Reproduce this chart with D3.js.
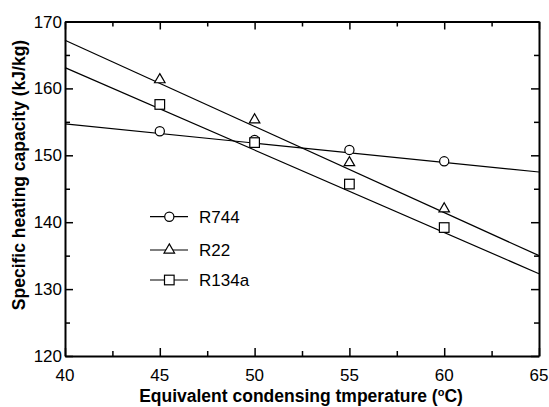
<!DOCTYPE html>
<html><head><meta charset="utf-8">
<script src="https://cdn.jsdelivr.net/npm/d3@7"></script>
<style>
body{margin:0;background:#fff;}
svg{display:block;}
text{font-family:"Liberation Sans",Arial,sans-serif;fill:#000;}
</style></head>
<body>
<svg id="c" width="549" height="407"></svg>
<script>
// Data
const temps = [45, 50, 55, 60];
const r744 = [153.6, 152.3, 150.8, 149.1];
const r22 = [161.3, 155.3, 148.9, 142.0];
const r134a = [157.6, 151.9, 145.7, 139.2];
// fitted straight lines drawn across the whole axis (read at 40 and 65)
const fitTemps = [40, 65];
const r744Fit = [154.7, 147.5];
const r22Fit = [167.2, 135.0];
const r134aFit = [163.1, 132.3];
const seriesNames = ["R744", "R22", "R134a"];
const xTicks = [40, 45, 50, 55, 60, 65];
const yTicks = [120, 130, 140, 150, 160, 170];

const svg = d3.select("#c");
const L = 65, R = 539, T = 21.5, B = 356;
const x = d3.scaleLinear().domain([40, 65]).range([L, R]);
const y = d3.scaleLinear().domain([120, 170]).range([B, T]);

// frame with inward ticks
const minorX = d3.range(40, 65.01, 2.5);
const minorY = d3.range(120, 170.01, 5);
function isMajorX(v){return Math.abs(v % 5) < 1e-6;}
function isMajorY(v){return Math.abs(v % 10) < 1e-6;}

const gB = svg.append("g").attr("transform", `translate(0,${B})`)
  .call(d3.axisBottom(x).tickValues(minorX).tickSizeOuter(0).tickFormat(""));
gB.selectAll(".tick line").attr("y2", d => isMajorX(d) ? -8 : -5);
const gT = svg.append("g").attr("transform", `translate(0,${T})`)
  .call(d3.axisTop(x).tickValues(minorX).tickSizeOuter(0).tickFormat(""));
gT.selectAll(".tick line").attr("y2", d => isMajorX(d) ? 8 : 5);
const gL = svg.append("g").attr("transform", `translate(${L},0)`)
  .call(d3.axisLeft(y).tickValues(minorY).tickSizeOuter(0).tickFormat(""));
gL.selectAll(".tick line").attr("x2", d => isMajorY(d) ? 8 : 5);
const gR = svg.append("g").attr("transform", `translate(${R},0)`)
  .call(d3.axisRight(y).tickValues(minorY).tickSizeOuter(0).tickFormat(""));
gR.selectAll(".tick line").attr("x2", d => isMajorY(d) ? -8 : -5);
svg.selectAll(".domain").attr("stroke", "#000").attr("stroke-width", 2);
svg.selectAll(".tick line").attr("stroke", "#000").attr("stroke-width", 1.5);

// tick labels
svg.append("g").selectAll("text").data(xTicks).join("text")
  .attr("x", d => x(d)).attr("y", 381).attr("text-anchor", "middle")
  .attr("font-size", 17).text(d => d);
svg.append("g").selectAll("text").data(yTicks).join("text")
  .attr("x", 62).attr("y", d => y(d) + 6).attr("text-anchor", "end")
  .attr("font-size", 17).text(d => d);

// axis titles
const xt = svg.append("text").attr("x", 301).attr("y", 402).attr("text-anchor", "middle")
  .attr("font-size", 17.5).attr("font-weight", "bold");
xt.append("tspan").text("Equivalent condensing tmperature  (");
xt.append("tspan").attr("font-size", 11).attr("dy", -6).text("o");
xt.append("tspan").attr("dy", 6).text("C)");
svg.append("text").attr("transform", "translate(25,175) rotate(-90)").attr("text-anchor", "middle")
  .attr("font-size", 17.5).attr("font-weight", "bold").text("Specific heating capacity  (kJ/kg)");

// lines
const data = [
  {name: seriesNames[0], vals: r744, fit: r744Fit, shape: "circle"},
  {name: seriesNames[1], vals: r22, fit: r22Fit, shape: "triangle"},
  {name: seriesNames[2], vals: r134a, fit: r134aFit, shape: "square"}
];
const line = d3.line().x(d => x(d[0])).y(d => y(d[1]));
const gLines = svg.append("g");
data.forEach(s => {
  gLines.append("path").datum(fitTemps.map((t, i) => [t, s.fit[i]]))
    .attr("d", line).attr("fill", "none").attr("stroke", "#000").attr("stroke-width", 1.2);
});

function marker(g, shape, cx, cy){
  if (shape === "circle") {
    g.append("circle").attr("cx", cx).attr("cy", cy).attr("r", 4.6)
      .attr("fill", "#fff").attr("stroke", "#000").attr("stroke-width", 1.2);
  } else if (shape === "square") {
    g.append("rect").attr("x", cx - 4.8).attr("y", cy - 4.8).attr("width", 9.6).attr("height", 9.6)
      .attr("fill", "#fff").attr("stroke", "#000").attr("stroke-width", 1.2);
  } else {
    const s = d3.symbol().type(d3.symbolTriangle).size(48);
    g.append("path").attr("d", s()).attr("transform", `translate(${cx},${cy})`)
      .attr("fill", "#fff").attr("stroke", "#000").attr("stroke-width", 1.2);
  }
}
const gM = svg.append("g");
data.forEach(s => {
  s.vals.forEach((v, i) => marker(gM, s.shape, x(temps[i]), y(v)));
});

// legend
const legY = [216.7, 250, 280];
const gLeg = svg.append("g");
data.forEach((s, i) => {
  gLeg.append("line").attr("x1", 150).attr("x2", 188).attr("y1", legY[i]).attr("y2", legY[i])
    .attr("stroke", "#000").attr("stroke-width", 1.2);
  marker(gLeg, s.shape, 169.3, legY[i]);
  gLeg.append("text").attr("x", 199).attr("y", legY[i] + 6).attr("font-size", 17).text(s.name);
});
</script>
</body></html>
